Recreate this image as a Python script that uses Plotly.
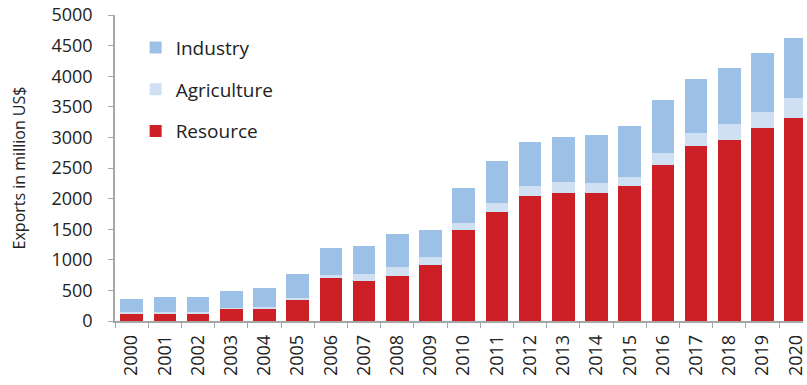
import plotly.graph_objects as go

years = [str(y) for y in range(2000, 2021)]
resource = [125, 125, 125, 196, 196, 355, 698, 654, 735, 915, 1487, 1786, 2048,
            2097, 2097, 2211, 2549, 2860, 2958, 3159, 3312]
agriculture = [20, 15, 15, 15, 38, 25, 54, 114, 153, 126, 109, 147, 158,
               180, 153, 147, 196, 217, 261, 251, 337]
industry = [210, 247, 247, 284, 300, 388, 436, 457, 528, 446, 572, 686, 724,
            724, 789, 833, 866, 877, 920, 964, 980]

y_ticks = list(range(0, 5001, 500))

font_family = "Open Sans"
axis_color = "#a6a6a6"

fig = go.Figure()
# stacked bottom-up; legend lists top-down via legendrank
series = [
    ("Resource", resource, "rgb(204,31,38)", 3),
    ("Agriculture", agriculture, "rgb(207,224,242)", 2),
    ("Industry", industry, "rgb(157,192,230)", 1),
]
for name, vals, color, rank in series:
    fig.add_trace(go.Bar(
        x=years, y=vals, name=name, legendgroup=name, legendrank=rank,
        marker=dict(color=color, line=dict(width=0)),
    ))

fig.update_layout(
    width=807, height=385,
    margin=dict(l=115, r=0, t=15, b=64),
    barmode="stack", bargap=0.32,
    plot_bgcolor="white", paper_bgcolor="white",
    font=dict(family=font_family, size=18, color="#222222"),
    legend=dict(
        x=0.03, y=0.955, xanchor="left", yanchor="top",
        traceorder="grouped", tracegroupgap=14,
        font=dict(size=19, color="#222222"),
        bgcolor="rgba(0,0,0,0)", itemwidth=30,
    ),
    showlegend=True,
)
fig.update_xaxes(
    type="category", range=[-0.5, 20.22],
    showline=True, linecolor=axis_color, linewidth=1.5,
    ticks="outside", tickson="boundaries", ticklen=5, tickcolor=axis_color,
    tickangle=-90, tickfont=dict(size=18), showgrid=False,
    ticklabelstandoff=5,
)
fig.update_yaxes(
    range=[0, 5000], tickvals=y_ticks,
    showline=True, linecolor=axis_color, linewidth=1.5,
    ticks="outside", ticklen=5, tickcolor=axis_color,
    tickfont=dict(size=18), showgrid=False, zeroline=False,
    ticklabelstandoff=12,
    title=dict(text="Exports in million US$", font=dict(size=16), standoff=22),
)

fig.write_html("out.html")
